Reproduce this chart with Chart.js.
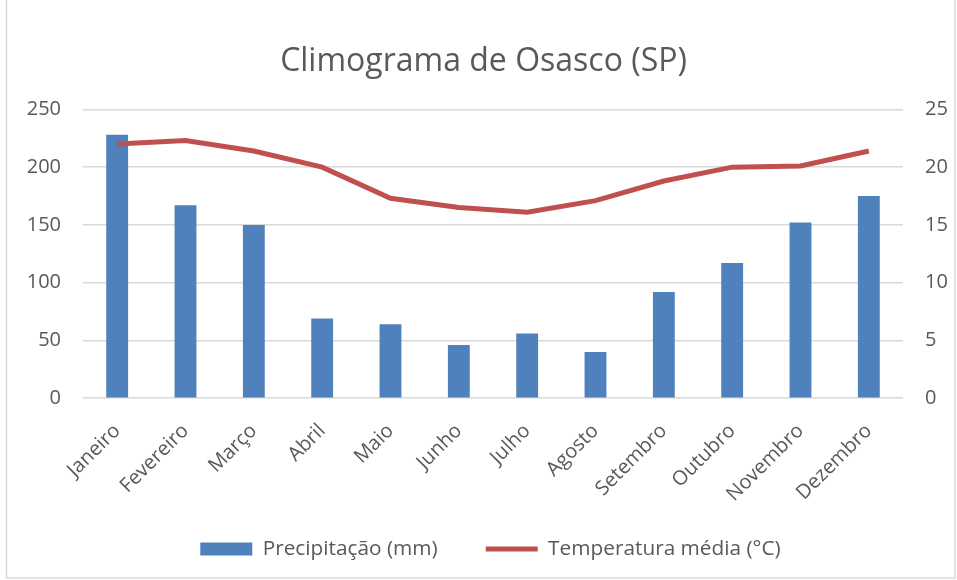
<!DOCTYPE html>
<html lang="pt">
<head>
    <meta charset="UTF-8">
    <title>Climograma de Osasco (SP)</title>
    <style>
        body {
            margin: 0;
            background-color: white;
        }
        .chart-container {
            width: 957px;
            height: 580px;
        }
    </style>
    <script src="https://cdn.jsdelivr.net/npm/chart.js"></script>
</head>
<body>
    <div class="chart-container">
        <canvas id="climograma" width="957" height="580"></canvas>
    </div>

    <script>
        const meses = ['Janeiro', 'Fevereiro', 'Março', 'Abril', 'Maio', 'Junho',
            'Julho', 'Agosto', 'Setembro', 'Outubro', 'Novembro', 'Dezembro'];
        const precipitacao = [228, 167, 150, 69, 64, 46, 56, 40, 92, 117, 152, 175];
        const temperatura = [22.0, 22.3, 21.4, 20.0, 17.3, 16.5, 16.1, 17.1, 18.8, 20.0, 20.1, 21.4];
        const ticksPrecip = [0, 50, 100, 150, 200, 250];
        const ticksTemp = [0, 5, 10, 15, 20, 25];

        const cinza = '#595959';
        const fonte = '"Open Sans", sans-serif';

        // white background + thin frame like the Excel chart area
        const moldura = {
            id: 'moldura',
            beforeDraw(chart) {
                const ctx = chart.ctx;
                ctx.save();
                ctx.fillStyle = 'white';
                ctx.fillRect(0, 0, chart.width, chart.height);
                ctx.strokeStyle = '#d9d9d9';
                ctx.lineWidth = 1.5;
                ctx.strokeRect(6.5, -2, chart.width - 8.5, chart.height);
                ctx.restore();
            }
        };

        // nudge the legend into the spot it has in the original
        const posLegenda = {
            id: 'posLegenda',
            afterLayout(chart) {
                const lg = chart.legend;
                lg.top -= 10.5;
                lg.bottom -= 10.5;
                lg.left += 7;
                lg.right += 7;
            }
        };

        function createChart() {
            const ctx = document.getElementById('climograma').getContext('2d');
            new Chart(ctx, {
                type: 'bar',
                data: {
                    labels: meses,
                    datasets: [{
                        label: 'Precipitação (mm)',
                        data: precipitacao,
                        backgroundColor: '#4f81bd',
                        borderWidth: 0,
                        barPercentage: 0.32,
                        categoryPercentage: 1,
                        pointStyle: 'rect',
                        yAxisID: 'y',
                        order: 2
                    }, {
                        type: 'line',
                        label: 'Temperatura média (°C)',
                        data: temperatura,
                        borderColor: '#c0504d',
                        backgroundColor: '#c0504d',
                        borderWidth: 5,
                        pointRadius: 0,
                        pointStyle: 'line',
                        tension: 0,
                        yAxisID: 'y2',
                        order: 1
                    }]
                },
                options: {
                    responsive: false,
                    animation: false,
                    layout: {
                        padding: { left: 10, right: 0, top: 0, bottom: 0 }
                    },
                    scales: {
                        x: {
                            grid: { display: false },
                            border: { display: false },
                            afterFit: (axis) => { axis.height = 103; },
                            ticks: {
                                color: cinza,
                                font: { family: fonte, size: 20 },
                                minRotation: 45,
                                maxRotation: 45,
                                padding: 13
                            }
                        },
                        y: {
                            position: 'left',
                            min: 0,
                            max: 250,
                            afterBuildTicks: (axis) => { axis.ticks = ticksPrecip.map(v => ({ value: v })); },
                            afterFit: (axis) => { axis.width = 73; },
                            grid: { color: '#d9d9d9', lineWidth: 1.5, drawTicks: false },
                            border: { display: false },
                            ticks: {
                                color: cinza,
                                font: { family: fonte, size: 20 },
                                padding: 22
                            }
                        },
                        y2: {
                            position: 'right',
                            min: 0,
                            max: 25,
                            afterBuildTicks: (axis) => { axis.ticks = ticksTemp.map(v => ({ value: v })); },
                            afterFit: (axis) => { axis.width = 54; },
                            grid: { display: false, drawTicks: false },
                            border: { display: false },
                            ticks: {
                                color: cinza,
                                font: { family: fonte, size: 20 },
                                padding: 22
                            }
                        }
                    },
                    plugins: {
                        title: {
                            display: true,
                            text: 'Climograma de Osasco (SP)',
                            color: cinza,
                            font: { family: fonte, size: 32, weight: 'normal' },
                            padding: { top: 43, bottom: 28 }
                        },
                        legend: {
                            position: 'bottom',
                            labels: {
                                usePointStyle: true,
                                pointStyleWidth: 52,
                                boxHeight: 13,
                                color: cinza,
                                font: { family: fonte, size: 20.8 },
                                padding: 48,
                                sort: (a, b) => a.datasetIndex - b.datasetIndex
                            }
                        },
                        tooltip: { enabled: false }
                    }
                },
                plugins: [moldura, posLegenda]
            });
        }

        window.onload = () => {
            createChart();
        };
    </script>
</body>
</html>
